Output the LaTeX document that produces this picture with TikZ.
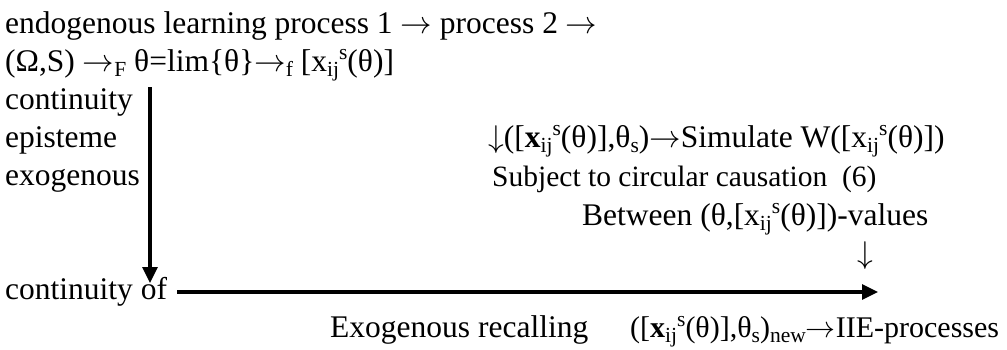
\RequirePackage{fix-cm}
\documentclass[tikz,border=0pt]{standalone}
\usepackage{fontspec}
\setmainfont{Liberation Serif}
\usetikzlibrary{arrows.meta}
\newcommand{\sbx}[1]{\raisebox{-0.17em}{\fontsize{21.5}{21.5}\selectfont #1}}
\newcommand{\spx}[1]{\raisebox{0.36em}{\fontsize{21.5}{21.5}\selectfont #1}}
\newcommand{\ra}{$\rightarrow$}
\newcommand{\da}{$\downarrow$}
\newcommand{\xs}{x\sbx{ij}\spx{s}}
\newcommand{\bxs}{\textbf{x}\sbx{ij}\spx{s}}
\begin{document}
\begin{tikzpicture}[x=1pt,y=-1pt,
  lbl/.style={inner sep=0pt, anchor=base west, font=\fontsize{31.5}{38}\selectfont},
  conn/.style={line width=3.2pt, -{Triangle[length=16pt,width=15pt]}}]
\useasboundingbox (0,0) rectangle (1007,349);
\node[lbl] (l1) at (5,33) {endogenous learning process 1 \ra{} process 2 \ra};
\node[lbl] (l2) at (5,71) {(Ω,S) \ra\sbx{F} θ=lim\{θ\}\ra\sbx{f} [\xs(θ)]};
\node[lbl] (cont) at (5,109) {continuity};
\node[lbl] (epi) at (5,147) {episteme};
\node[lbl] (exo) at (5,185) {exogenous};
\node[lbl] (cof) at (5,299) {continuity of};
\node[lbl] (sim) at (488,147) {\da([\bxs(θ)],θ\sbx{s})\ra Simulate W([\xs(θ)])};
\node[lbl, font=\fontsize{29.5}{36}\selectfont] (subj) at (492,186) {Subject to circular causation\ \ (6)};
\node[lbl] (betw) at (582,225) {Between (θ,[\xs(θ)])-values};
\node[lbl] (dn) at (857,263) {\da};
\node[lbl] (exr) at (330,337) {Exogenous recalling};
\node[lbl, font=\fontsize{30}{36}\selectfont] (iie) at (630,337) {([\bxs(θ)],θ\sbx{s})\sbx{new}\ra IIE-processes};
\coordinate (vtop) at (150,87);
\coordinate (vend) at (150,283);
\coordinate (hend) at (878,292);
\draw[conn] (vtop) -- (vend);
\draw[conn] (cof.east |- hend) ++(10,0) -- (hend);
\end{tikzpicture}
\end{document}
